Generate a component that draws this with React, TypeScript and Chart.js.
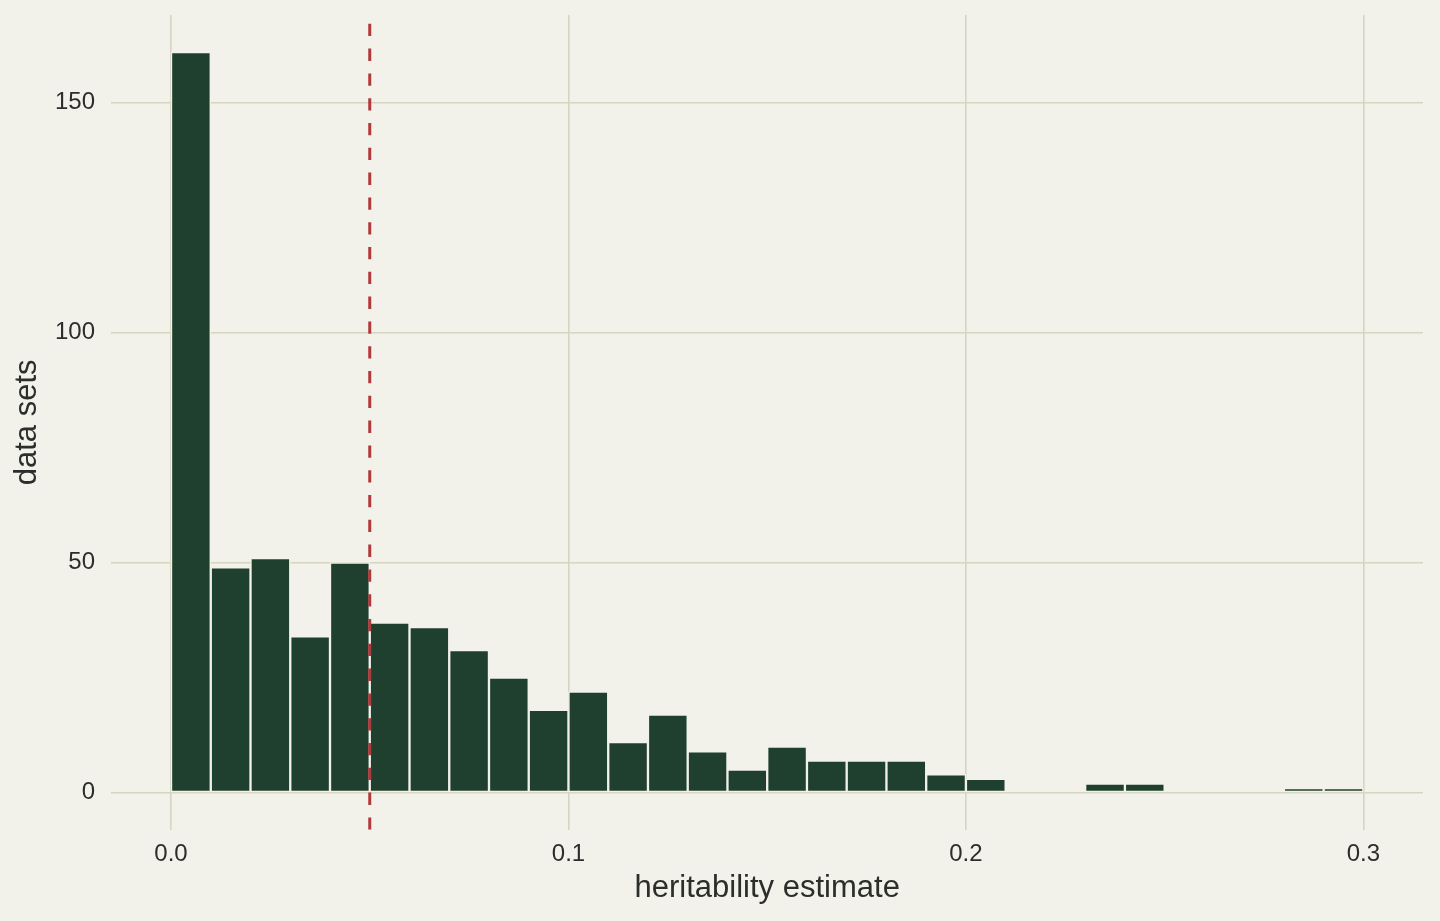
import { useEffect, useRef } from 'react';
import { Chart, ChartConfiguration, registerables } from 'chart.js';

// Register the necessary components
Chart.register(...registerables);

// Histogram bins (width 0.01), centre of each bin
const binCentres = [
    0.005, 0.015, 0.025, 0.035, 0.045, 0.055, 0.065, 0.075, 0.085, 0.095,
    0.105, 0.115, 0.125, 0.135, 0.145, 0.155, 0.165, 0.175, 0.185, 0.195,
    0.205, 0.215, 0.225, 0.235, 0.245, 0.255, 0.265, 0.275, 0.285, 0.295,
];
// Number of data sets in each bin
const counts = [
    161, 49, 51, 34, 50, 37, 36, 31, 25, 18,
    22, 11, 17, 9, 5, 10, 7, 7, 7, 4,
    3, 0, 0, 2, 2, 0, 0, 0, 1, 1,
];
const xTicks = [0, 0.1, 0.2, 0.3];
const yTicks = [0, 50, 100, 150];
// Dashed reference line
const cutoff = 0.05;
const xRange = [-0.015, 0.315];
const yRange = [-8.05, 169.05];

const BG = '#F2F1EA';
const GRID = '#D6D5C1';
const BAR = '#1F402E';
const RED = '#B0393B';
const TEXT = '#2B2E2B';
const FONT = "'Liberation Sans', Arial, sans-serif";

export default function App() {
    const canvasRef = useRef<HTMLCanvasElement | null>(null);
    const chartRef = useRef<Chart | null>(null);

    useEffect(() => {
        document.body.style.margin = '0';
        document.body.style.background = BG;

        if (!canvasRef.current) return;

        const config: ChartConfiguration = {
            type: 'bar',
            data: {
                datasets: [
                    {
                        type: 'line',
                        data: [
                            { x: cutoff, y: yRange[0] },
                            { x: cutoff, y: yRange[1] },
                        ],
                        borderColor: RED,
                        borderWidth: 3,
                        borderDash: [12.3, 12.5],
                        pointRadius: 0,
                        fill: false,
                        order: 0,
                    },
                    {
                        type: 'bar',
                        data: binCentres.map((x, i) => ({ x, y: counts[i] })),
                        backgroundColor: BAR,
                        borderColor: BG,
                        borderWidth: 1.5,
                        borderSkipped: false,
                        barPercentage: 1,
                        categoryPercentage: 1,
                        order: 1,
                    },
                ] as any,
            },
            options: {
                responsive: false,
                animation: false,
                layout: { padding: { top: 15.1, right: 17, bottom: 0, left: 0 } },
                plugins: {
                    legend: { display: false },
                    tooltip: { enabled: false },
                },
                scales: {
                    x: {
                        type: 'linear',
                        min: xRange[0],
                        max: xRange[1],
                        offset: false,
                        afterBuildTicks: (scale: any) => {
                            scale.ticks = xTicks.map(v => ({ value: v }));
                        },
                        afterFit: (scale: any) => {
                            scale.height = 91.3;
                            scale.paddingLeft = 0;
                            scale.paddingRight = 0;
                            scale.paddingTop = 0;
                            scale.paddingBottom = 0;
                        },
                        grid: { color: GRID, lineWidth: 1.6, drawTicks: false, offset: false },
                        border: { display: false },
                        ticks: {
                            padding: 10.6,
                            color: TEXT,
                            font: { family: FONT, size: 24 },
                            callback: (v: any) => Number(v).toFixed(1),
                        },
                        title: {
                            display: true,
                            text: 'heritability estimate',
                            color: TEXT,
                            font: { family: FONT, size: 31 },
                            padding: { top: 0, bottom: 14 },
                        },
                    },
                    y: {
                        type: 'linear',
                        min: yRange[0],
                        max: yRange[1],
                        afterBuildTicks: (scale: any) => {
                            scale.ticks = yTicks.map(v => ({ value: v }));
                        },
                        afterFit: (scale: any) => {
                            scale.width = 111.4;
                            scale.paddingLeft = 0;
                            scale.paddingRight = 0;
                            scale.paddingTop = 0;
                            scale.paddingBottom = 0;
                        },
                        grid: { color: GRID, lineWidth: 1.6, drawTicks: false },
                        border: { display: false },
                        ticks: {
                            padding: 16.4,
                            color: TEXT,
                            font: { family: FONT, size: 24 },
                        },
                        title: {
                            display: true,
                            text: 'data sets',
                            color: TEXT,
                            font: { family: FONT, size: 31 },
                            padding: { top: 9, bottom: 0 },
                        },
                    },
                },
            },
        };

        chartRef.current = new Chart(canvasRef.current, config);

        return () => {
            if (chartRef.current) {
                chartRef.current.destroy();
                chartRef.current = null;
            }
        };
    }, []);

    return (
        <div style={{ width: 1440, height: 921, background: BG }}>
            <canvas ref={canvasRef} width={1440} height={921} style={{ display: 'block' }}></canvas>
        </div>
    );
}
